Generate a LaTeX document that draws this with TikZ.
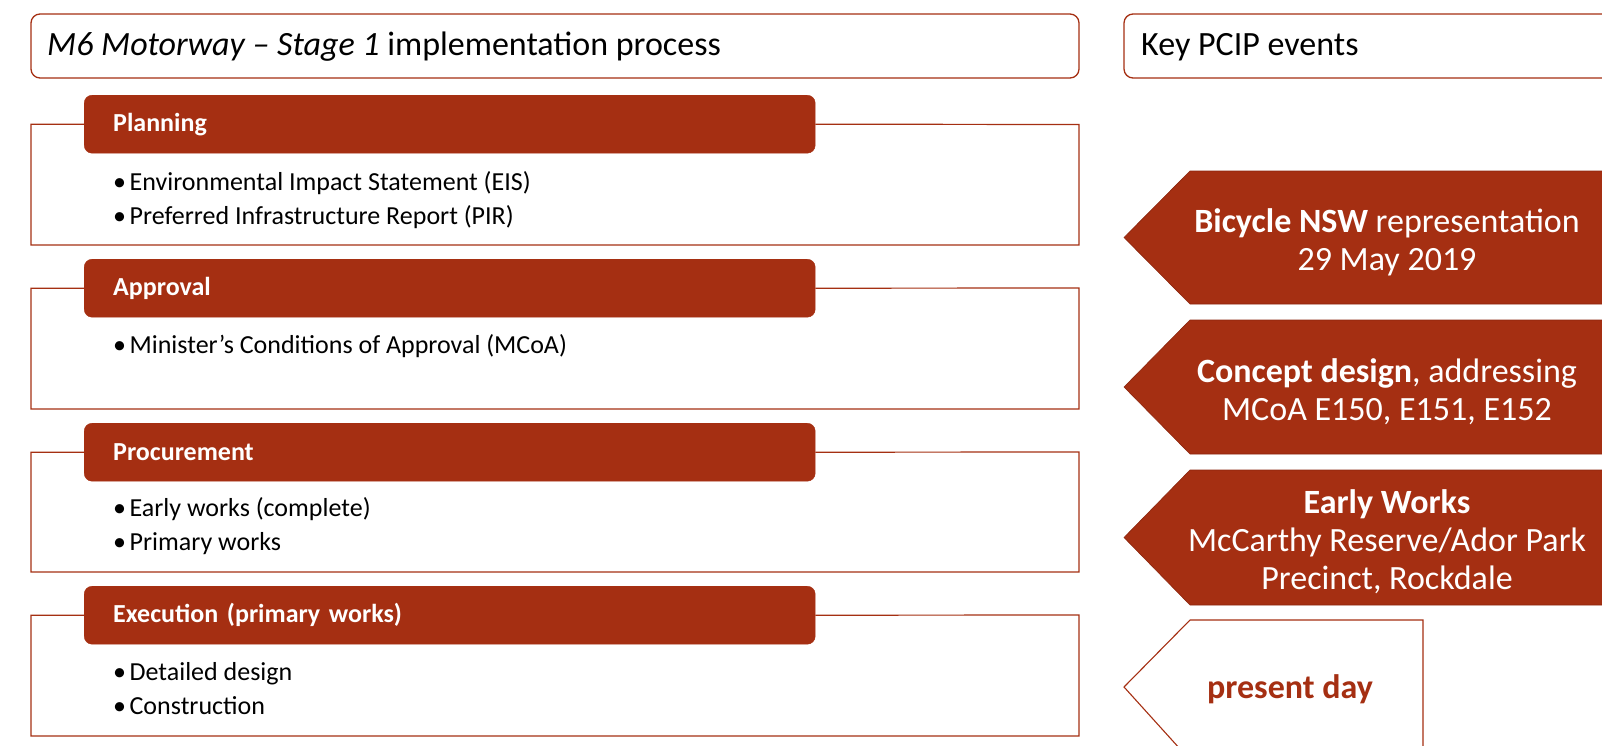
\documentclass[tikz,border=0pt]{standalone}
\usepackage{fontspec}
\setmainfont{Carlito}
\definecolor{rust}{RGB}{165,47,18}
\definecolor{rustedge}{RGB}{140,38,14}
\newcommand{\bul}{•\hspace{3.5pt}}
\begin{document}
\begin{tikzpicture}[x=1pt,y=-1pt,
  frame/.style={draw=rust,line width=1.3pt,rounded corners=9pt,fill=white},
  phase/.style={fill=rust,draw=rust,rounded corners=8pt,anchor=north west,
    minimum width=731pt,minimum height=58pt,text width=673pt,inner xsep=29pt,
    align=left,text=white,font=\fontsize{26}{30}\selectfont\bfseries},
  lane/.style={draw=rust,line width=1.2pt},
  item/.style={anchor=base west,inner sep=0pt,font=\fontsize{26}{30}\selectfont},
  event/.style={fill=rust,draw=rustedge,line width=0.6pt},
  eventtext/.style={align=center,text=white,inner sep=0pt,font=\fontsize{34}{38}\selectfont},
  heading/.style={anchor=west,inner sep=0pt,font=\fontsize{34}{40}\selectfont}]
\clip (0,0) rectangle (1602,745);

% headings
\draw[frame] (31,14) rectangle (1079,78);
\node[heading] (title) at (47,47) {\itshape M6 Motorway -- Stage 1\upshape{} implementation process};
\draw[frame] (1124,14) rectangle (1660,78);
\node[heading] (key) at (1141,47) {Key PCIP events};

% phases of the implementation process
\node[phase] (plan) at (84,95) {Planning};
\draw[lane] (plan.west) -| (31,245) -| (1079,124.5) -- (plan.east);
\node[item] (plan1) at (113,190) {\bul Environmental Impact Statement (EIS)};
\node[item] (plan2) at (113,224) {\bul Preferred Infrastructure Report (PIR)};

\node[phase] (appr) at (84,259) {Approval};
\draw[lane] (appr.west) -| (31,409) -| (1079,288) -- (appr.east);
\node[item] (appr1) at (113,353) {\bul Minister’s Conditions of Approval (MCoA)};

\node[phase] (proc) at (84,423) {Procurement};
\draw[lane] (proc.west) -| (31,572) -| (1079,452) -- (proc.east);
\node[item] (proc1) at (113,516) {\bul Early works (complete)};
\node[item] (proc2) at (113,550) {\bul Primary works};

\node[phase] (exec) at (84,586) {Execution (primary works)};
\draw[lane] (exec.west) -| (31,736) -| (1079,615) -- (exec.east);
\node[item] (exec1) at (113,680) {\bul Detailed design};
\node[item] (exec2) at (113,714) {\bul Construction};

% key events, pointing back at the process
\fill[event] (1124,237.5) -- (1190,171) -- (1660,171) -- (1660,304) -- (1190,304) -- cycle;
\node[eventtext] (ev1) at (1387,242) {\textbf{Bicycle NSW} representation\\29 May 2019};

\fill[event] (1124,387) -- (1190,320) -- (1660,320) -- (1660,454) -- (1190,454) -- cycle;
\node[eventtext] (ev2) at (1387,392) {\textbf{Concept design}, addressing\\MCoA E150, E151, E152};

\fill[event] (1124,537.5) -- (1190,470) -- (1660,470) -- (1660,605) -- (1190,605) -- cycle;
\node[eventtext] (ev3) at (1387,541.5) {\textbf{Early Works}\\McCarthy Reserve/Ador Park\\Precinct, Rockdale};

\draw[draw=rust,line width=1.1pt,fill=white] (1124,687) -- (1190,620) -- (1423,620) -- (1423,760) -- (1190,760) -- cycle;
\node[eventtext,text=rust,font=\fontsize{34}{38}\selectfont\bfseries] (ev4) at (1290,689) {present day};
\end{tikzpicture}
\end{document}
